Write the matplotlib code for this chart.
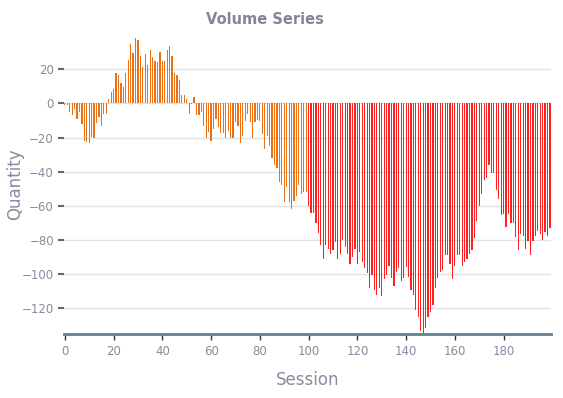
import numpy as np
import matplotlib
matplotlib.use('Agg')
import matplotlib.pyplot as plt

# quantity per session
quantity = [
    -1, -1, -5, -7, -3.5, -9, -5, -12, -22, -22.5,
    -23, -19.5, -20.5, -11.5, -8, -13, -6, -6.5, 2.5, 6.5,
    8.5, 17.5, 16.5, 12, 9.5, 18, 25.5, 34.5, 29.5, 38,
    37, 27.5, 21.5, 29, 22.5, 31, 27, 25, 24, 30,
    24.5, 24.5, 31, 33.5, 28, 18, 16.5, 13.5, 5, 5,
    2.5, -6.5, -0.5, 3.5, -7, -7, -5, -13, -20, -17,
    -22, -15, -9, -14, -17.5, -17.5, -20, -16, -20, -20,
    -11, -13, -23, -19, -10.5, -6, -11, -20.5, -11, -10,
    -10.5, -18, -27, -19, -25, -32, -36, -38, -46, -48,
    -58, -49, -58, -62, -57, -54, -48, -53, -52, -52,
    -60, -64, -64, -70, -76, -83, -91, -83, -85, -88,
    -86, -81, -91, -88, -80, -84, -88, -94, -90, -85,
    -94, -87, -93, -96.5, -99.5, -108, -100.5, -109.5, -112, -108,
    -113, -103, -100.5, -95, -102, -107, -98.5, -96.5, -104, -102,
    -96, -101.5, -109, -112, -121, -125, -133.5, -134.5, -131.5, -125,
    -122, -118, -108, -102.5, -99, -97.5, -89, -89, -94, -103,
    -95, -89, -89, -95, -93, -91, -88, -86, -79, -69,
    -60, -53, -45, -44, -36, -41, -41, -51, -56, -65.5,
    -64.5, -72.5, -64.5, -70, -70, -78.5, -86, -76.5, -77.5, -85.5,
    -80.5, -88.5, -80.5, -77.5, -75, -76.5, -80, -75.5, -77.5, -73,
]
session = np.arange(len(quantity))
split_at = 100  # first sessions orange, the rest red
x_ticks = list(range(0, 181, 20))
y_ticks = list(range(-120, 21, 20))

text_col = '#8a8a9e'
colors = ['#ec6f12' if s < split_at else '#ff1f1f' for s in session]

fig = plt.figure(figsize=(5.63, 3.98), dpi=100)
ax = fig.add_axes([0.113, 0.161, 0.866, 0.751])

ax.bar(session, quantity, width=0.5, color=colors, linewidth=0, zorder=3)

ax.set_xlim(-0.5, len(quantity) - 0.5)
ax.set_ylim(-135, 40)
ax.set_xticks(x_ticks)
ax.set_yticks(y_ticks)
ax.grid(axis='y', color='#e2e2e2', linewidth=1, zorder=0)

for side in ['top', 'right', 'left']:
    ax.spines[side].set_visible(False)
ax.spines['bottom'].set_color('#62808f')
ax.spines['bottom'].set_linewidth(2)
ax.spines['bottom'].set_zorder(4)

ax.tick_params(axis='x', colors='#333333', labelcolor=text_col, labelsize=8.5,
               length=4, width=1, pad=4)
ax.tick_params(axis='y', colors='#666666', labelcolor=text_col, labelsize=8.5,
               length=4, width=1.5, pad=3)

ax.set_xlabel('Session', color=text_col, fontsize=12, labelpad=9)
ax.set_ylabel('Quantity', color=text_col, fontsize=12)
ax.yaxis.set_label_coords(-0.082, 0.5)
fig.text(265 / 563, 1 - 20 / 398, 'Volume Series', ha='center', va='center',
         color='#84849a', fontsize=10.5, fontweight='bold')

fig.savefig('out.png', dpi=100)
